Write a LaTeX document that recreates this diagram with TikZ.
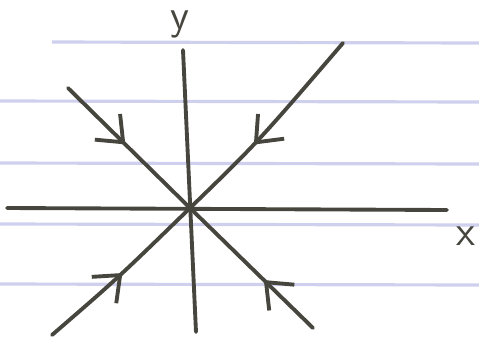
\documentclass[tikz,border=0pt]{standalone}
\usepackage{xcolor}
\usepackage{tikz}
\usetikzlibrary{arrows.meta, decorations.markings}
\definecolor{pencildark}{HTML}{46463F}
\definecolor{ruledline}{HTML}{CFCFEE}
\tikzset{
  axis/.style={line width=1.1pt, color=pencildark, line cap=round},
  ruled/.style={line width=0.9pt, color=ruledline},
  lbl/.style={font=\large\sffamily, text=pencildark},
  traj/.style={line width=1.1pt, color=pencildark, line cap=round,
               decoration={markings, mark=at position #1 with {\arrow{Straight Barb[length=2.2mm, width=3.6mm, line width=1.1pt]}}},
               postaction={decorate}},
  traj/.default=0.5,
}

\begin{document}
\begin{tikzpicture}[x=1cm, y=1cm]
  \useasboundingbox (-1.90,-1.32) rectangle (2.89,2.08);
  % ruled paper
  \draw[ruled] (-1.38,1.66) -- (2.89,1.65);
  \foreach \yy in {1.07,0.45,-0.16,-0.76}
    \draw[ruled] (-1.90,\yy) -- (2.89,\yy-0.01);
  % axes
  \coordinate (o) at (0,0);
  \coordinate (ytop) at (-0.07,1.58);
  \coordinate (ybot) at (0.06,-1.24);
  \coordinate (xleft) at (-1.83,0);
  \coordinate (xright) at (2.57,-0.02);
  \draw[axis] (ybot) -- (ytop);
  \draw[axis] (xleft) -- (xright);
  \node[lbl] (ylab) at (-0.10,1.84) {y};
  \node[lbl] (xlab) at (2.76,-0.28) {x};
  % trajectories
  \coordinate (ul) at (-1.22,1.20);
  \coordinate (ur) at (1.53,1.65);
  \coordinate (ll) at (-1.38,-1.27);
  \coordinate (lr) at (1.23,-1.20);
  \draw[traj=0.47] (ul) -- (o);
  \draw[traj=0.6] (ur) .. controls (0.68,0.66) .. (o);
  \draw[traj=0.5] (ll) .. controls (-0.72,-0.70) .. (o);
  \draw[traj=0.4] (lr) -- (o);
\end{tikzpicture}
\end{document}
